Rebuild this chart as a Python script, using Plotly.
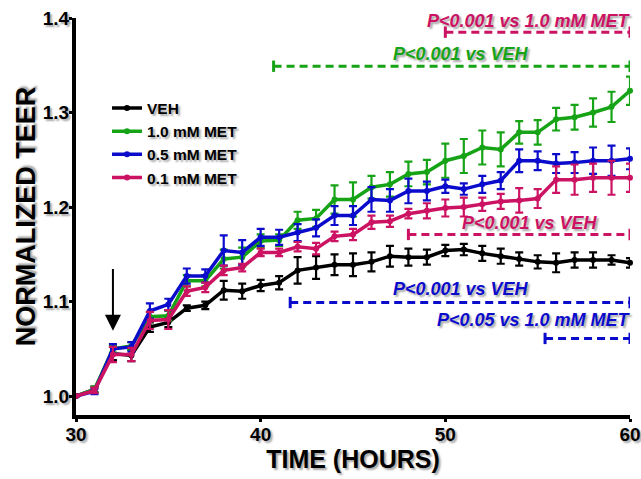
import plotly.graph_objects as go

hours = list(range(30, 61))

veh = [1.000, 1.007, 1.045, 1.043, 1.073, 1.078, 1.093, 1.096, 1.112, 1.111,
       1.117, 1.120, 1.133, 1.136, 1.139, 1.139, 1.142, 1.148, 1.147, 1.147,
       1.154, 1.155, 1.151, 1.148, 1.145, 1.142, 1.141, 1.144, 1.144, 1.144, 1.141]
veh_err = [0.0, 0.003, 0.007, 0.006, 0.005, 0.005, 0.003, 0.004, 0.010, 0.008,
           0.006, 0.007, 0.014, 0.012, 0.011, 0.012, 0.010, 0.011, 0.009, 0.008,
           0.006, 0.006, 0.008, 0.008, 0.007, 0.007, 0.010, 0.008, 0.008, 0.005, 0.005]

met10 = [1.000, 1.007, 1.050, 1.053, 1.084, 1.085, 1.122, 1.122, 1.145, 1.147,
         1.164, 1.165, 1.186, 1.188, 1.208, 1.208, 1.221, 1.224, 1.235, 1.237,
         1.249, 1.254, 1.263, 1.261, 1.279, 1.279, 1.293, 1.295, 1.300, 1.306, 1.323]
met10_err = [0.0, 0.003, 0.004, 0.004, 0.005, 0.005, 0.006, 0.006, 0.010, 0.010,
             0.007, 0.006, 0.009, 0.009, 0.015, 0.018, 0.012, 0.013, 0.013, 0.013,
             0.018, 0.018, 0.018, 0.018, 0.012, 0.013, 0.012, 0.013, 0.015, 0.016, 0.015]

met05 = [1.000, 1.005, 1.050, 1.052, 1.090, 1.097, 1.127, 1.127, 1.154, 1.152,
         1.168, 1.168, 1.173, 1.178, 1.191, 1.191, 1.208, 1.207, 1.217, 1.217,
         1.222, 1.219, 1.224, 1.228, 1.249, 1.249, 1.246, 1.247, 1.249, 1.249, 1.251]
met05_err = [0.0, 0.003, 0.005, 0.005, 0.008, 0.006, 0.008, 0.007, 0.016, 0.013,
             0.009, 0.008, 0.009, 0.009, 0.010, 0.010, 0.013, 0.012, 0.013, 0.010,
             0.007, 0.006, 0.009, 0.009, 0.012, 0.010, 0.010, 0.011, 0.014, 0.016, 0.011]

met01 = [1.000, 1.006, 1.044, 1.044, 1.080, 1.081, 1.111, 1.115, 1.133, 1.136,
         1.152, 1.152, 1.158, 1.156, 1.169, 1.171, 1.184, 1.185, 1.193, 1.196,
         1.199, 1.200, 1.203, 1.206, 1.207, 1.209, 1.229, 1.229, 1.231, 1.231, 1.231]
met01_err = [0.0, 0.003, 0.008, 0.007, 0.009, 0.010, 0.005, 0.005, 0.005, 0.004,
             0.004, 0.004, 0.005, 0.006, 0.005, 0.006, 0.007, 0.006, 0.005, 0.008,
             0.009, 0.010, 0.007, 0.008, 0.013, 0.010, 0.014, 0.016, 0.015, 0.018, 0.015]

series_names = ["VEH", "1.0 mM MET", "0.5 mM MET", "0.1 mM MET"]
BLACK, GREEN, BLUE, PINK = "#000000", "#16A316", "#0B0BCC", "#CC1262"
colors = [BLACK, GREEN, BLUE, PINK]

FONT = "Liberation Sans, Arial, Helvetica, sans-serif"
SHADOW = "2px 2px 2px rgba(0,0,0,0.35)"

fig = go.Figure()
for name, vals, errs, col in zip(series_names, [veh, met10, met05, met01],
                                 [veh_err, met10_err, met05_err, met01_err], colors):
    fig.add_trace(go.Scatter(
        x=hours, y=vals, name=name, mode="lines+markers",
        line=dict(color=col, width=3.5),
        marker=dict(color=col, size=6),
        error_y=dict(type="data", array=errs, color=col, thickness=2.2, width=4),
        cliponaxis=False,
    ))

# significance brackets: (text, color, x_start, x_end, y_line, text_x_right, text_y)
brackets = [
    ("P<0.001 vs 1.0 mM MET", PINK, 50.0, 60.0, 1.385, 60.0, 1.397),
    ("P<0.001 vs VEH", GREEN, 40.7, 60.0, 1.349, 54.45, 1.362),
    ("P<0.001 vs VEH", PINK, 48.0, 60.0, 1.171, 58.2, 1.183),
    ("P<0.001 vs VEH", BLUE, 41.6, 60.0, 1.099, 54.45, 1.113),
    ("P<0.05 vs 1.0 mM MET", BLUE, 55.4, 60.0, 1.061, 60.0, 1.080),
]
for text, col, x0, x1, yl, tx, ty in brackets:
    fig.add_shape(type="line", x0=x0, x1=x1, y0=yl, y1=yl, xref="x", yref="y",
                  line=dict(color=col, width=3, dash="8px,5px"))
    for xe in (x0, x1):
        fig.add_shape(type="line", x0=xe, x1=xe, y0=yl - 0.006, y1=yl + 0.006,
                      xref="x", yref="y", line=dict(color=col, width=3))
    fig.add_annotation(x=tx, y=ty, xref="x", yref="y", text=f"<b><i>{text}</i></b>",
                       showarrow=False, xanchor="right", yanchor="middle", xshift=3,
                       font=dict(family=FONT, size=18, color=col, shadow=SHADOW))

# arrow marking treatment
fig.add_annotation(x=32, y=1.069, ax=32, ay=1.136, xref="x", yref="y",
                   axref="x", ayref="y", text="", showarrow=True,
                   arrowhead=2, arrowsize=1.6, arrowwidth=2, arrowcolor="black")

fig.update_layout(
    width=641, height=479,
    margin=dict(l=76, r=11, t=18, b=64, autoexpand=False),
    paper_bgcolor="white", plot_bgcolor="white",
    font=dict(family=FONT, color="black"),
    showlegend=True,
    legend=dict(x=0.056, y=0.815, xanchor="left", yanchor="top",
                bgcolor="rgba(0,0,0,0)", itemwidth=30, tracegroupgap=0,
                font=dict(family=FONT, size=15.5, color="black", weight="bold", shadow=SHADOW)),
    xaxis=dict(range=[30, 60], tickvals=[30, 40, 50, 60], showline=True, automargin=False,
               linecolor="black", linewidth=4, ticks="outside", ticklen=3, tickwidth=3,
               tickcolor="black", showgrid=False, zeroline=False,
               ticklabeloverflow="allow", ticklabelstandoff=-4,
               tickfont=dict(family=FONT, size=19, weight="bold", shadow=SHADOW),
               title=dict(text="<b>TIME (HOURS)</b>", standoff=8,
                          font=dict(family=FONT, size=25, shadow=SHADOW))),
    yaxis=dict(range=[0.98, 1.4], tickvals=[1.0, 1.1, 1.2, 1.3, 1.4], tickformat=".1f",
               showline=True, automargin=False, linecolor="black", linewidth=4,
               ticks="outside", ticklen=3, tickwidth=3, tickcolor="black",
               showgrid=False, zeroline=False,
               ticklabeloverflow="allow", ticklabelstandoff=-4,
               tickfont=dict(family=FONT, size=19, weight="bold", shadow=SHADOW),
               title=dict(text="<b>NORMALIZED TEER</b>", standoff=0,
                          font=dict(family=FONT, size=27, shadow=SHADOW))),
)

# remove the default page margin so the 641x479 figure fills the window exactly
fig.write_html("out.html",
               config={"displayModeBar": False},
               post_script="document.body.style.margin='0';"
                           "document.body.style.overflow='hidden';")
